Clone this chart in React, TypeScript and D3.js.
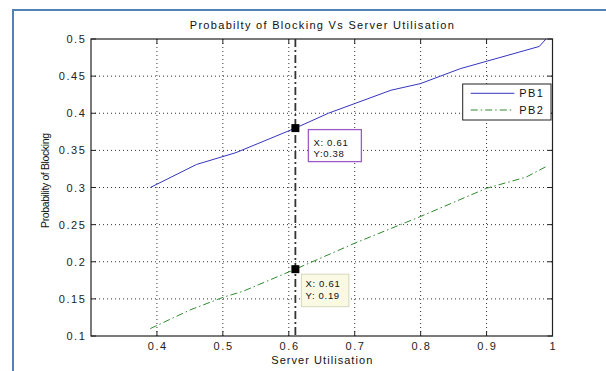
import React from "react";
import * as d3 from "d3";

const pb1X = [0.39, 0.46, 0.52, 0.61, 0.66, 0.755, 0.80, 0.86, 0.98, 0.99];
const pb1Y = [0.300, 0.331, 0.347, 0.380, 0.400, 0.431, 0.440, 0.460, 0.490, 0.500];
const pb2X = [0.39, 0.45, 0.50, 0.53, 0.61, 0.70, 0.80, 0.90, 0.96, 0.99];
const pb2Y = [0.110, 0.135, 0.152, 0.160, 0.190, 0.225, 0.261, 0.299, 0.314, 0.328];
const xTicks = [0.4, 0.5, 0.6, 0.7, 0.8, 0.9, 1];
const xTickLabels = ["0.4", "0.5", "0.6", "0.7", "0.8", "0.9", "1"];
const yTicks = [0.1, 0.15, 0.2, 0.25, 0.3, 0.35, 0.4, 0.45, 0.5];
const yTickLabels = ["0.1", "0.15", "0.2", "0.25", "0.3", "0.35", "0.4", "0.45", "0.5"];
const seriesNames = ["PB1", "PB2"];
const cursorX = 0.61;
const tipPoints = [
  { x: 0.61, y: 0.38, lines: ["X: 0.61", "Y:0.38"] },
  { x: 0.61, y: 0.19, lines: ["X: 0.61", "Y: 0.19"] },
];
const title = "Probabilty of Blocking Vs Server Utilisation";
const xLabel = "Server Utilisation";
const yLabel = "Probability of Blocking";

const W = 606, H = 371;
const L = 91, R = 552.5, T = 39, B = 336;
const FONT = "'Liberation Sans', Arial, Helvetica, sans-serif";

export default function App() {
  const x = d3.scaleLinear().domain([0.3, 1]).range([L, R]);
  const y = d3.scaleLinear().domain([0.1, 0.5]).range([B, T]);
  const line = d3.line<[number, number]>().x(d => x(d[0])).y(d => y(d[1]));
  const d1 = line(pb1X.map((v, i) => [v, pb1Y[i]]) as [number, number][]) || "";
  const d2 = line(pb2X.map((v, i) => [v, pb2Y[i]]) as [number, number][]) || "";
  const tick = 5;
  const tipStyles = [
    { dx: 13, dy: 1.5, w: 53, h: 32, fill: "#ffffff", stroke: "#9b5cc6", sw: 1.3, lx: 18, l1: 16, l2: 27.5 },
    { dx: 6, dy: 5, w: 47.5, h: 32.5, fill: "#f9f9e4", stroke: "#d6d6bc", sw: 1, lx: 10, l1: 13, l2: 25 },
  ];
  return (
    <svg width={W} height={H} style={{ position: "absolute", left: 0, top: 0, background: "#fff" }} fontFamily={FONT}>
      <rect x={0} y={0} width={W} height={H} fill="#fff" />
      {/* outer blue frame */}
      <line x1={12} x2={W} y1={10} y2={10} stroke="#4f81bd" strokeWidth={2} />
      <line x1={13} x2={13} y1={10} y2={H} stroke="#4f81bd" strokeWidth={2} />

      {/* grid */}
      {xTicks.filter(t => t < 1).map(t => (
        <line key={"gx" + t} x1={x(t)} x2={x(t)} y1={T} y2={B} stroke="#333" strokeWidth={1} strokeDasharray="1,3" />
      ))}
      {yTicks.filter(t => t > 0.1 && t < 0.5).map(t => (
        <line key={"gy" + t} x1={L} x2={R} y1={y(t)} y2={y(t)} stroke="#333" strokeWidth={1} strokeDasharray="1,3" />
      ))}
      {/* ticks */}
      {xTicks.map(t => (
        <g key={"tx" + t}>
          <line x1={x(t)} x2={x(t)} y1={B} y2={B - tick} stroke="#222" />
          <line x1={x(t)} x2={x(t)} y1={T} y2={T + tick} stroke="#222" />
        </g>
      ))}
      {yTicks.map(t => (
        <g key={"ty" + t}>
          <line x1={L} x2={L + tick} y1={y(t)} y2={y(t)} stroke="#222" />
          <line x1={R} x2={R - tick} y1={y(t)} y2={y(t)} stroke="#222" />
        </g>
      ))}

      {/* cursor line */}
      <line x1={x(cursorX)} x2={x(cursorX)} y1={T} y2={B} stroke="#333" strokeWidth={1.8} strokeDasharray="8,3,2,3" />

      {/* series */}
      <path d={d1} fill="none" stroke="#3535c0" strokeWidth={1} />
      <path d={d2} fill="none" stroke="#2f8a2f" strokeWidth={1} strokeDasharray="7,3,1.5,3" />

      {/* frame */}
      <rect x={L} y={T} width={R - L} height={B - T} fill="none" stroke="#222" strokeWidth={1.2} />

      {/* tick labels */}
      {xTicks.map((t, i) => (
        <text key={"xl" + t} x={x(t) + 0.8} y={350} textAnchor="middle" fontSize={11} letterSpacing={1.6} fill="#222">{xTickLabels[i]}</text>
      ))}
      {yTicks.map((t, i) => (
        <text key={"yl" + t} x={86.5} y={y(t) + 4} textAnchor="end" fontSize={11} letterSpacing={1.6} fill="#222">{yTickLabels[i]}</text>
      ))}

      {/* titles */}
      <text x={(L + R) / 2} y={29} textAnchor="middle" fontSize={11} textLength={264} lengthAdjust="spacing" fill="#111">{title}</text>
      <text x={(L + R) / 2} y={364} textAnchor="middle" fontSize={11} textLength={101} lengthAdjust="spacing" fill="#111">{xLabel}</text>
      <text transform={`translate(49,${(T + B) / 2 - 7}) rotate(-90)`} textAnchor="middle" fontSize={10.5} textLength={95} lengthAdjust="spacing" fill="#111">{yLabel}</text>

      {/* legend */}
      <g>
        <rect x={462.7} y={84} width={88.3} height={36} fill="#fff" stroke="#222" strokeWidth={1} />
        <line x1={470.7} x2={514.3} y1={93.3} y2={93.3} stroke="#3535c0" strokeWidth={1} />
        <line x1={470.7} x2={514.3} y1={110} y2={110} stroke="#2f8a2f" strokeWidth={1} strokeDasharray="7,3,1.5,3" />
        <text x={519.3} y={97.3} fontSize={11} letterSpacing={1.4} fill="#111">{seriesNames[0]}</text>
        <text x={519.3} y={114} fontSize={11} letterSpacing={1.4} fill="#111">{seriesNames[1]}</text>
      </g>

      {/* data tips */}
      {tipPoints.map((p, i) => {
        const s = tipStyles[i];
        const px = x(p.x), py = y(p.y);
        return (
          <g key={"tip" + i}>
            <rect x={px - 4} y={py - 4} width={8} height={8} fill="#000" />
            <rect x={px + s.dx} y={py + s.dy} width={s.w} height={s.h} fill={s.fill} stroke={s.stroke} strokeWidth={s.sw} />
            <text x={px + s.lx} y={py + s.dy + s.l1} fontSize={9.5} letterSpacing={0.7} fill="#111">{p.lines[0]}</text>
            <text x={px + s.lx} y={py + s.dy + s.l2} fontSize={9.5} letterSpacing={0.7} fill="#111">{p.lines[1]}</text>
          </g>
        );
      })}
    </svg>
  );
}
